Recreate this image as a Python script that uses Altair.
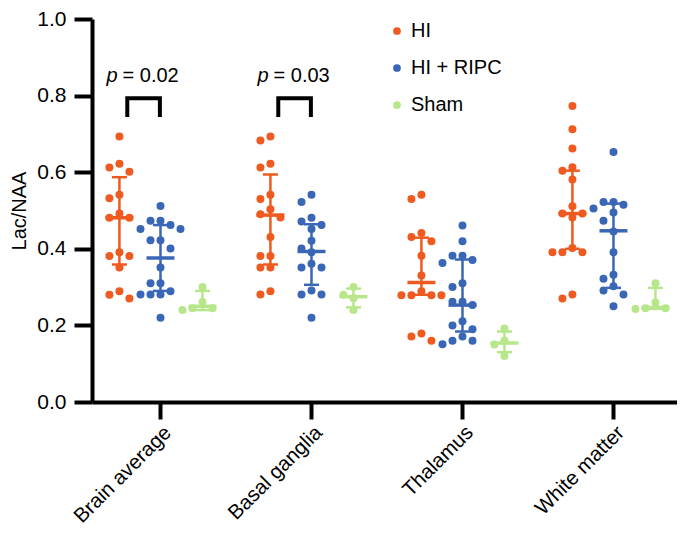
import json
import altair as alt
import pandas as pd

FONT = "Liberation Sans"

regions = ["Brain average", "Basal ganglia", "Thalamus", "White matter"]
groups = ["HI", "HI + RIPC", "Sham"]
colors = ["#EE5A1F", "#3A67B5", "#B8E68A"]

hi_vals = [
    [0.693, 0.622, 0.612, 0.601, 0.541, 0.532, 0.492, 0.481, 0.481, 0.391, 0.381, 0.381, 0.351, 0.289, 0.280, 0.270],
    [0.693, 0.683, 0.622, 0.612, 0.541, 0.530, 0.503, 0.490, 0.482, 0.431, 0.381, 0.381, 0.351, 0.351, 0.289, 0.281],
    [0.541, 0.530, 0.441, 0.431, 0.420, 0.382, 0.330, 0.289, 0.279, 0.279, 0.279, 0.279, 0.179, 0.171, 0.160],
    [0.773, 0.712, 0.662, 0.613, 0.604, 0.581, 0.511, 0.492, 0.492, 0.482, 0.402, 0.391, 0.391, 0.391, 0.281, 0.270],
]
ripc_vals = [
    [0.512, 0.473, 0.473, 0.462, 0.452, 0.452, 0.422, 0.422, 0.401, 0.351, 0.310, 0.310, 0.289, 0.281, 0.281, 0.281, 0.220],
    [0.541, 0.522, 0.481, 0.471, 0.462, 0.452, 0.421, 0.401, 0.391, 0.361, 0.351, 0.351, 0.291, 0.281, 0.281, 0.220],
    [0.461, 0.420, 0.382, 0.382, 0.371, 0.363, 0.310, 0.300, 0.262, 0.262, 0.253, 0.211, 0.200, 0.190, 0.171, 0.160, 0.160, 0.151],
    [0.653, 0.522, 0.522, 0.515, 0.505, 0.495, 0.473, 0.445, 0.391, 0.332, 0.322, 0.302, 0.291, 0.281, 0.250],
]
sham_vals = [
    [0.300, 0.261, 0.245, 0.245, 0.240],
    [0.300, 0.280, 0.271, 0.240],
    [0.192, 0.160, 0.150, 0.120],
    [0.310, 0.260, 0.245, 0.245, 0.243],
]

# median and interquartile range
hi_med = [0.481, 0.488, 0.312, 0.492]
hi_q1 = [0.359, 0.359, 0.280, 0.400]
hi_q3 = [0.587, 0.594, 0.429, 0.604]
ripc_med = [0.376, 0.393, 0.253, 0.447]
ripc_q1 = [0.290, 0.306, 0.184, 0.298]
ripc_q3 = [0.462, 0.464, 0.372, 0.518]
sham_med = [0.250, 0.275, 0.154, 0.247]
sham_q1 = [0.240, 0.247, 0.130, 0.243]
sham_q3 = [0.290, 0.296, 0.184, 0.298]

# significance annotations
p_regions = [0, 1]
p_texts = ["= 0.02", "= 0.03"]
bracket_low = 0.744
bracket_high = 0.793
p_text_y = 0.835

# ---------------- layout helpers ----------------
PLOT_W = 585
PLOT_H = 383
group_offset = {"HI": -0.272, "HI + RIPC": 0.0, "Sham": 0.278}
SLOT = 10 / 151.0  # horizontal swarm step, in category units
DIAM = 9.0


def swarm(vals):
    placed = []
    slots = []
    for v in vals:
        y = v * PLOT_H
        for k in [0, -1, 1, -2, 2, -3, 3, -4, 4]:
            if all((y - py) ** 2 + ((k - ps) * 10.0) ** 2 >= DIAM ** 2 for py, ps in placed):
                break
        placed.append((y, k))
        slots.append(k)
    return slots


rows = []
for gname, allvals in zip(groups, [hi_vals, ripc_vals, sham_vals]):
    for ri, vals in enumerate(allvals):
        for v, k in zip(vals, swarm(vals)):
            rows.append({"region": regions[ri], "group": gname, "value": v,
                         "x": ri + group_offset[gname] + k * SLOT})
pts = pd.DataFrame(rows)

srows = []
for gname, med, q1, q3 in zip(groups, [hi_med, ripc_med, sham_med],
                               [hi_q1, ripc_q1, sham_q1], [hi_q3, ripc_q3, sham_q3]):
    for ri in range(len(regions)):
        srows.append({"region": regions[ri], "group": gname, "x": ri + group_offset[gname],
                      "med": med[ri], "q1": q1[ri], "q3": q3[ri]})
stats = pd.DataFrame(srows)

brows = []
trows = []
for i, (ri, t) in enumerate(zip(p_regions, p_texts)):
    xl = ri + group_offset["HI"] + 0.052
    xr = ri + group_offset["HI + RIPC"] - 0.004
    for o, (xx, yy) in enumerate([(xl, bracket_low), (xl, bracket_high), (xr, bracket_high), (xr, bracket_low)]):
        brows.append({"id": i, "ord": o, "x": xx, "value": yy})
    trows.append({"x": (xl + xr) / 2, "value": p_text_y, "p": "p", "t": t})
brk = pd.DataFrame(brows)
ptxt = pd.DataFrame(trows)

xscale = alt.Scale(domain=[-0.4536, 3.4206], nice=False, zero=False)
label_expr = json.dumps(regions) + "[datum.value]"
xaxis = alt.Axis(values=[0, 1, 2, 3], labelExpr=label_expr, title=None, labelAngle=-45,
                 labelAlign="right", labelBaseline="top", tickSize=17, labelPadding=3,
                 labelFontSize=20.5)
yscale = alt.Scale(domain=[0, 1], nice=False)
yaxis = alt.Axis(values=[0, 0.2, 0.4, 0.6, 0.8, 1.0], format=".1f", title="Lac/NAA",
                 titleFontSize=20, titleFontWeight="normal", tickSize=18, labelPadding=8,
                 labelFontSize=21, titlePadding=7)

X = alt.X("x:Q", scale=xscale, axis=xaxis)
color_scale = alt.Scale(domain=groups, range=colors)

points = alt.Chart(pts).mark_circle(size=64, opacity=1).encode(
    x=X,
    y=alt.Y("value:Q", scale=yscale, axis=yaxis),
    color=alt.Color("group:N", scale=color_scale,
                    legend=alt.Legend(title=None, orient="none", legendX=295, legendY=2,
                                      symbolType="circle", symbolSize=60, labelFontSize=20,
                                      labelFont=FONT, labelColor="black", labelOffset=4,
                                      rowPadding=17, symbolStrokeWidth=0)),
)

bars = alt.Chart(stats).mark_rule(strokeWidth=2.5).encode(
    x=X,
    y=alt.Y("q1:Q", scale=yscale, axis=yaxis),
    y2="q3:Q",
    color=alt.Color("group:N", scale=color_scale, legend=None),
)
caps_lo = alt.Chart(stats).mark_tick(orient="horizontal", size=15, thickness=2.5, opacity=1).encode(
    x=X,
    y=alt.Y("q1:Q", scale=yscale, axis=yaxis),
    color=alt.Color("group:N", scale=color_scale, legend=None),
)
caps_hi = alt.Chart(stats).mark_tick(orient="horizontal", size=15, thickness=2.5, opacity=1).encode(
    x=X,
    y=alt.Y("q3:Q", scale=yscale, axis=yaxis),
    color=alt.Color("group:N", scale=color_scale, legend=None),
)
medians = alt.Chart(stats).mark_tick(orient="horizontal", size=28, thickness=3.5, opacity=1).encode(
    x=X,
    y=alt.Y("med:Q", scale=yscale, axis=yaxis),
    color=alt.Color("group:N", scale=color_scale, legend=None),
)

brackets = alt.Chart(brk).mark_line(color="black", strokeWidth=4, strokeJoin="miter").encode(
    x=X,
    y=alt.Y("value:Q", scale=yscale, axis=yaxis),
    detail="id:N",
    order="ord:Q",
)

p_italic = alt.Chart(ptxt).mark_text(font=FONT, fontSize=20, fontStyle="italic", align="left",
                                      baseline="alphabetic", dx=-37, color="black").encode(
    x=X, y=alt.Y("value:Q", scale=yscale, axis=yaxis), text="p:N")
p_rest = alt.Chart(ptxt).mark_text(font=FONT, fontSize=20, align="left",
                                    baseline="alphabetic", dx=-21, color="black").encode(
    x=X, y=alt.Y("value:Q", scale=yscale, axis=yaxis), text="t:N")

chart = alt.layer(points, bars, caps_lo, caps_hi, medians, brackets, p_italic, p_rest).properties(
    width=PLOT_W, height=PLOT_H,
    autosize=alt.AutoSizeParams(type="none"),
    padding={"left": 84, "top": 11, "right": 0, "bottom": 128},
).configure_view(stroke=None).configure_axis(
    grid=False, domainColor="black", tickColor="black", labelColor="black", titleColor="black",
    domainWidth=4, tickWidth=4, labelFont=FONT, titleFont=FONT,
)

chart.save("out.html", embed_options={"renderer": "svg", "actions": False})
